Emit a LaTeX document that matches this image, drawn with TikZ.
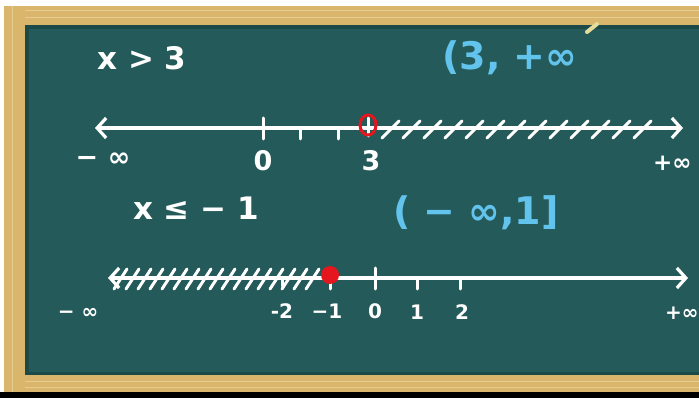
\documentclass[tikz,border=0pt]{standalone}
\usepackage{fontspec}
\setmainfont{DejaVu Sans}
\usetikzlibrary{arrows.meta}
\definecolor{board}{HTML}{245A59}
\definecolor{boardedge}{HTML}{1C4A49}
\definecolor{wood}{HTML}{D9B66C}
\definecolor{woodlight}{HTML}{E6CD8F}
\definecolor{chalkblue}{HTML}{62C3EC}
\definecolor{chalkred}{HTML}{E6161E}
\definecolor{stick}{HTML}{E4DC9A}

\begin{document}
\begin{tikzpicture}[x=1pt, y=-1pt,
  axis/.style={draw=white, line width=3.4pt, line cap=round,
    {Straight Barb[length=9pt, width=20pt, line width=3.2pt]}-{Straight Barb[length=9pt, width=20pt, line width=3.2pt]}},
  tickmark/.style={draw=white, line width=3pt, line cap=round},
  hatchline/.style={draw=white, line width=3pt, line cap=round},
  big/.style={text=white, inner sep=0pt, font=\fontsize{31}{36}\selectfont\bfseries},
  blue/.style={text=chalkblue, inner sep=0pt, font=\fontsize{38}{44}\selectfont\bfseries},
  numa/.style={text=white, inner sep=0pt, font=\fontsize{27}{32}\selectfont\bfseries},
  numb/.style={text=white, inner sep=0pt, font=\fontsize{20}{24}\selectfont\bfseries}]
\useasboundingbox (0,0) rectangle (699,398);
% frame
\fill[white] (0,0) rectangle (699,398);
\fill[black] (0,392) rectangle (699,398);
\fill[wood] (4,6) rectangle (699,392);
\foreach \y in {11,18} \draw[woodlight, line width=1pt] (25,\y) -- (699,\y);
\foreach \y in {381,387} \draw[woodlight, line width=1pt] (25,\y) -- (699,\y);
\draw[woodlight, line width=1pt] (12,6) -- (12,392);
\fill[boardedge] (25,25) rectangle (699,375);
\fill[board] (29,29) rectangle (699,372);
\draw[stick, line width=4pt, line cap=round] (587,32) -- (597,24);

\begin{scope}
\clip (25,25) rectangle (699,375);
% x > 3
\node[big] (ineq1) at (142,58) {x > 3};
\node[blue] (int1) at (510,58) {(3, +∞};
\coordinate (l1) at (95,128);
\coordinate (r1) at (683,128);
\draw[axis] (l1) -- (r1);
\draw[tickmark] (263,118) -- (263,139);
\foreach \x in {300,338} \draw[tickmark] (\x,128) -- (\x,139);
\draw[tickmark] (368,118) -- (368,136);
\foreach \x in {390,411,...,655} \draw[hatchline] (\x-8,138) -- (\x+9,121);
\draw[chalkred, line width=3pt] (368,125) ellipse (8 and 10);
\node[numa] (minf1) at (103,160) {− ∞};
\node[numa] (zero1) at (263,161) {0};
\node[numa] (three1) at (371,161) {3};
\node[numa, font=\fontsize{23}{28}\selectfont\bfseries, anchor=west] (pinf1) at (653,163) {+∞};

% x <= -1
\node[big] (ineq2) at (196,208) {x ≤ − 1};
\node[blue] (int2) at (476,213) {( − ∞,1]};
\coordinate (l2) at (108,278);
\coordinate (r2) at (688,278);
\draw[axis] (l2) -- (r2);
\foreach \x in {120,132,...,320} \draw[hatchline] (\x-6,289) -- (\x+7,269);
\draw[tickmark] (282,278) -- (282,286);
\draw[tickmark] (330,278) -- (330,289);
\draw[tickmark] (375,268) -- (375,289);
\foreach \x in {417,460} \draw[tickmark] (\x,278) -- (\x,289);
\fill[chalkred] (330,275) circle (9);
\node[numb] (minf2) at (78,313) {−  ∞};
\node[numb] (mtwo) at (282,311) {-2};
\node[numb] (mone) at (327,311) {−1};
\node[numb] (zero2) at (375,311) {0};
\node[numb] (one2) at (417,312) {1};
\node[numb] (two2) at (462,312) {2};
\node[numb, anchor=west] (pinf2) at (665,313) {+∞};
\end{scope}
\end{tikzpicture}
\end{document}
